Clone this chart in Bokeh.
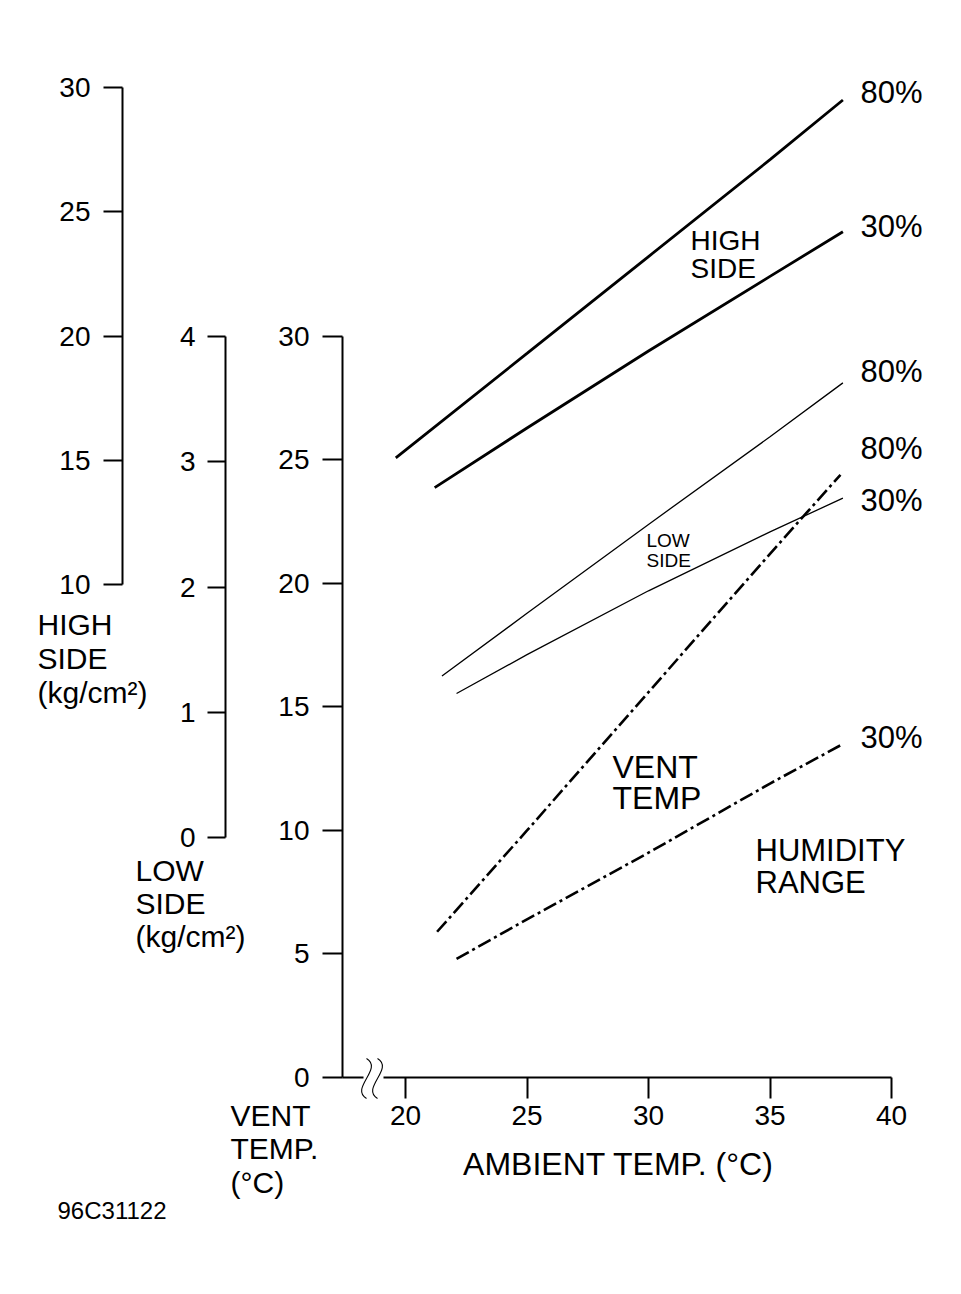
from bokeh.plotting import figure
from bokeh.models import Range1d, LinearAxis, FixedTicker
from bokeh.core.properties import value
from bokeh.embed import file_html
from bokeh.resources import INLINE

# ---------------- data ----------------
vent_ticks = [0, 5, 10, 15, 20, 25, 30]
low_ticks = [0, 1, 2, 3, 4]
high_ticks = [10, 15, 20, 25, 30]
ambient_ticks = [20, 25, 30, 35, 40]

# high side pressure (kg/cm2) vs ambient temp
high80_x = [19.6, 25, 30, 35, 38.0]
high80_y = [15.1, 19.3, 23.2, 27.1, 29.5]
high30_x = [21.2, 25, 30, 35, 38.0]
high30_y = [13.9, 16.3, 19.4, 22.4, 24.2]
# low side pressure (kg/cm2)
low80_x = [21.5, 25, 30, 35, 38.0]
low80_y = [1.29, 1.79, 2.50, 3.20, 3.63]
low30_x = [22.1, 25, 30, 35, 38.0]
low30_y = [1.15, 1.46, 1.97, 2.44, 2.71]
# vent temperature (deg C)
vent80_x = [21.3, 25, 30, 35, 37.9]
vent80_y = [5.9, 10.0, 15.6, 21.2, 24.4]
vent30_x = [22.1, 25, 30, 35, 38.0]
vent30_y = [4.8, 6.4, 9.1, 11.9, 13.5]

pct_labels = ["80%", "30%", "80%", "80%", "30%", "30%"]

FONT = "Liberation Sans"

# ---------------- layout helpers (page pixel -> main data units, text placement only) ----------------
def dx(px):
    return 20 + (px - 405) / 24.3

def dy(py):
    return (1077 - py) / 24.7

p = figure(width=953, height=1285,
           x_range=Range1d(17.407, 42.222), y_range=Range1d(0, 41.17),
           min_border_left=342, min_border_right=8, min_border_top=60, min_border_bottom=208,
           output_backend="svg", toolbar_location=None,
           background_fill_color="white", border_fill_color="white")
p.outline_line_color = None
p.grid.visible = False
p.extra_y_ranges = {"high": Range1d(-9.84, 31.09), "low": Range1d(-1.916, 6.204)}


def style_axis(ax, ticks, bounds, tick_out, standoff, pad=None):
    ax.ticker = FixedTicker(ticks=ticks)
    ax.bounds = bounds
    ax.axis_line_color = "black"
    ax.axis_line_width = 2
    ax.major_tick_line_color = "black"
    ax.major_tick_line_width = 2
    ax.major_tick_out = tick_out
    ax.major_tick_in = 0
    ax.minor_tick_line_color = None
    ax.major_label_text_font = FONT
    ax.major_label_text_font_size = "28px"
    ax.major_label_text_color = "black"
    ax.major_label_standoff = standoff
    if pad is not None:
        ax.axis_label = " "
        ax.axis_label_standoff = pad
        ax.axis_label_text_font_size = "1px"


style_axis(p.yaxis[0], vent_ticks, (0, 30), 20, 13, pad=46)
low_axis = LinearAxis(y_range_name="low")
style_axis(low_axis, low_ticks, (0, 4), 18, 12, pad=50)
p.add_layout(low_axis, "left")
high_axis = LinearAxis(y_range_name="high")
style_axis(high_axis, high_ticks, (10, 30), 19, 13)
p.add_layout(high_axis, "left")
style_axis(p.xaxis[0], ambient_ticks, (19.1, 40), 21, 7)

# ---------------- curves ----------------
p.line(high80_x, high80_y, y_range_name="high", line_color="black", line_width=2.8)
p.line(high30_x, high30_y, y_range_name="high", line_color="black", line_width=2.8)
p.line(low80_x, low80_y, y_range_name="low", line_color="black", line_width=1.3)
p.line(low30_x, low30_y, y_range_name="low", line_color="black", line_width=1.3)
p.line(vent80_x, vent80_y, line_color="black", line_width=2.6, line_dash="14 4 3 4")
p.line(vent30_x, vent30_y, line_color="black", line_width=2.6, line_dash="14 4 3 4")

# axis break on ambient axis
p.segment(x0=[17.407], y0=[0], x1=[dx(363)], y1=[0], line_color="black", line_width=2, level="overlay")
for cx in (dx(366), dx(377)):
    p.bezier(x0=[cx], y0=[dy(1058)], x1=[cx], y1=[dy(1098)],
             cx0=[cx + 0.7], cy0=[dy(1068)], cx1=[cx - 0.7], cy1=[dy(1088)],
             line_color="black", line_width=1.1, level="overlay")

# ---------------- texts ----------------
pct_y = [92, 226, 371, 448, 500, 737]
p.text(x=[dx(860)] * len(pct_labels), y=[dy(v) for v in pct_y], text=pct_labels,
       text_font=value(FONT), text_font_size="31px", text_align="left", text_baseline="middle",
       text_color="black")

texts = [("HIGH", 690, 240, "28px", "left"), ("SIDE", 690, 268, "28px", "left"),
         ("LOW", 646, 540, "19px", "left"), ("SIDE", 646, 560, "19px", "left"),
         ("VENT", 612, 767, "32px", "left"), ("TEMP", 612, 798, "32px", "left"),
         ("HUMIDITY", 755, 850, "31px", "left"), ("RANGE", 755, 882, "31px", "left"),
         ("HIGH", 37, 624, "30px", "left"), ("SIDE", 37, 658, "30px", "left"),
         ("(kg/cm²)", 37, 692, "30px", "left"),
         ("LOW", 135, 870, "30px", "left"), ("SIDE", 135, 903, "30px", "left"),
         ("(kg/cm²)", 135, 936, "30px", "left"),
         ("VENT", 230, 1115, "30px", "left"), ("TEMP.", 230, 1148, "30px", "left"),
         ("(°C)", 230, 1182, "30px", "left"),
         ("96C31122", 57, 1210, "24px", "left"),
         ("AMBIENT TEMP. (°C)", 618, 1163, "32px", "center")]
for t, px, py, fs, al in texts:
    p.text(x=[dx(px)], y=[dy(py)], text=[t], text_font=value(FONT), text_font_size=fs,
           text_align=al, text_baseline="middle", text_color="black", level="overlay")

open("out.html", "w").write(file_html(p, INLINE))
